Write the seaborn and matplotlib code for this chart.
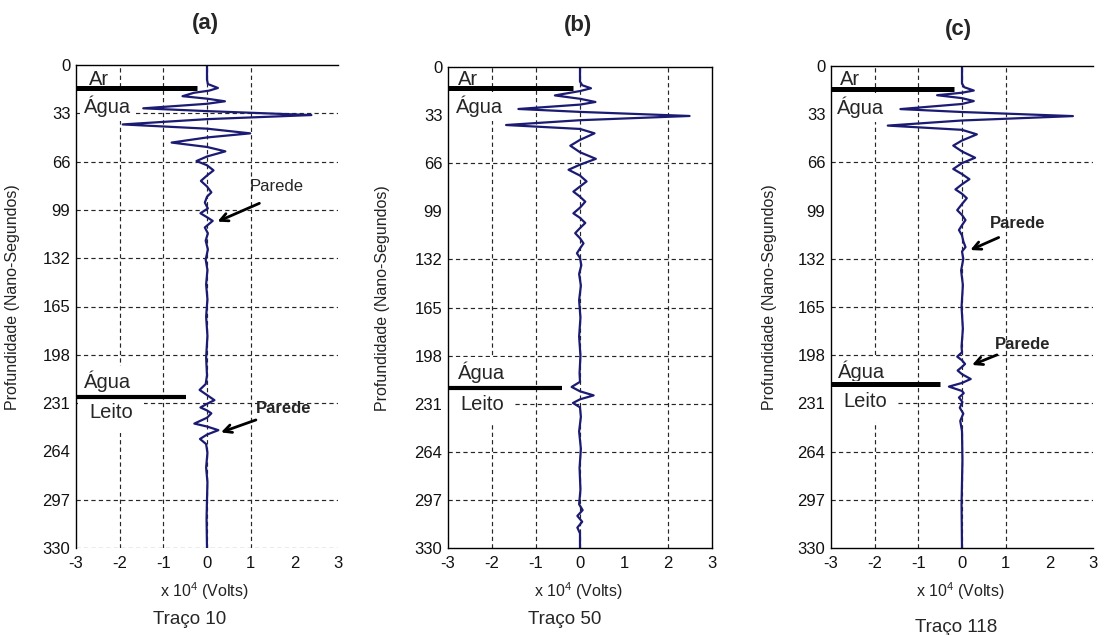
import matplotlib
matplotlib.use("Agg")
import matplotlib.pyplot as plt
import seaborn as sns
import pandas as pd

# ---------------------------------------------------------------------------
# GPR traces: depth (ns) and amplitude (x 10^4 V)
# ---------------------------------------------------------------------------
depth_a = [0, 10, 13, 15.7, 17.5, 19, 21.3, 23, 24.8, 26.5, 29.6, 31.5, 34.2, 37,
           40.6, 43.5, 46.7, 49.5, 53, 56, 59, 62.5, 65.6, 68.5, 72, 75.5, 79.2,
           83, 87, 90, 94, 98, 101.3, 104, 106.5, 111, 115, 120, 126, 133, 140,
           150, 160, 172, 185, 200, 212, 218, 222, 225.5, 229, 231.5, 234, 236,
           238, 241, 245, 247, 249.5, 252.5, 255.5, 259, 265, 275, 285, 297, 310,
           330]
amp_a = [0.0, 0.0, 0.02, 0.25, 0.05, -0.3, -0.56, 0.0, 0.41, 0.0, -1.46, 0.0, 2.39,
         0.0, -1.93, 0.0, 0.99, 0.0, -0.81, 0.0, 0.42, 0.0, -0.24, 0.0, 0.15, 0.0,
         -0.14, 0.0, 0.1, 0.0, -0.05, 0.02, -0.15, 0.0, 0.13, -0.05, 0.02, -0.03,
         0.02, -0.03, 0.01, -0.02, 0.01, -0.02, 0.01, -0.02, 0.0, -0.03, -0.17,
         0.0, 0.17, 0.0, -0.15, 0.0, 0.1, 0.0, -0.29, 0.0, 0.26, 0.0, -0.16,
         -0.02, 0.01, -0.02, 0.01, 0.0, -0.01, 0.0]

depth_b = [0, 10, 12.5, 14.6, 16.5, 19.5, 21.8, 24, 25.8, 28.8, 30.8, 33.6, 36.5,
           39.8, 42.5, 45.5, 50, 54, 58.5, 63, 67, 70.5, 74.5, 78.5, 82, 85.5, 89,
           92.4, 96.5, 100.4, 103.5, 107, 110.5, 114, 117.5, 121, 124.5, 127.8,
           131, 136, 142, 150, 160, 172, 185, 198, 210, 216, 219.5, 222.5, 225.3,
           228, 230.5, 233.5, 240, 250, 262, 275, 290, 300, 304, 308, 312, 316,
           320, 330]
amp_b = [0.0, 0.0, 0.05, 0.25, 0.0, -0.57, 0.0, 0.35, 0.0, -1.4, 0.0, 2.49, 0.0,
         -1.68, 0.0, 0.33, 0.0, -0.22, 0.0, 0.36, 0.0, -0.26, 0.0, 0.15, 0.0,
         -0.15, 0.0, 0.12, 0.0, -0.15, 0.0, 0.12, 0.0, -0.11, 0.0, 0.08, 0.0,
         -0.07, 0.0, 0.03, -0.02, 0.02, -0.02, 0.01, -0.02, 0.01, -0.01, 0.0,
         -0.19, 0.0, 0.31, 0.0, -0.16, 0.0, 0.02, -0.02, 0.02, -0.01, 0.01,
         -0.02, 0.06, -0.06, 0.05, -0.06, 0.0, 0.0]

depth_c = [0, 12, 14.5, 16.8, 18.3, 20, 22, 24, 26, 29.5, 31.5, 34.3, 37.3, 40.8,
           43.7, 46.8, 51, 54.5, 58.5, 62.8, 66.5, 70.5, 74, 77.5, 81, 84.5, 87.5,
           90.5, 94.5, 98.7, 102, 105.5, 109, 112.3, 116, 120, 124, 127, 132, 140,
           150, 165, 180, 192, 196, 199, 201.5, 204, 206, 208.5, 211, 214.3, 217,
           219.5, 222.5, 224, 227, 230, 234, 238, 243, 250, 270, 300, 330]
amp_c = [0.0, 0.0, 0.05, 0.27, 0.0, -0.57, 0.0, 0.27, 0.0, -1.41, 0.0, 2.54, 0.0,
         -1.7, 0.0, 0.34, 0.0, -0.2, 0.0, 0.3, 0.0, -0.2, 0.0, 0.17, 0.0, -0.15,
         0.0, 0.11, 0.0, -0.11, 0.0, 0.08, 0.0, -0.07, 0.0, 0.03, 0.08, 0.0, 0.03,
         -0.02, 0.02, -0.01, 0.02, -0.01, 0.0, -0.11, 0.0, 0.07, 0.0, -0.1, 0.0,
         0.2, 0.0, -0.3, 0.0, 0.04, -0.07, 0.01, -0.05, 0.03, -0.04, 0.0, 0.01,
         -0.01, 0.0]

panel_tags = ["(a)", "(b)", "(c)"]
trace_names = ["Traço 10", "Traço 50", "Traço 118"]
x_ticks = [-3, -2, -1, 0, 1, 2, 3]
y_ticks = [0, 33, 66, 99, 132, 165, 198, 231, 264, 297, 330]

# interface depths (ns) marked on each trace: air/water and water/bed
air_water = [16.0, 14.6, 15.5]
water_bed = [226.6, 220.0, 217.9]

# ---------------------------------------------------------------------------
# Style
# ---------------------------------------------------------------------------
sns.set_style("white")
plt.rcParams["font.family"] = ["Liberation Sans", "DejaVu Sans"]
plt.rcParams["axes.unicode_minus"] = False
plt.rcParams["mathtext.fontset"] = "custom"
plt.rcParams["mathtext.rm"] = "Liberation Sans"

TRACE_COLOR = "#1b1b74"
GRID_KW = dict(color="#262626", lw=0.85, linestyle=(0, (3.6, 2.7)), zorder=1)

W, H = 1104, 635
fig = plt.figure(figsize=(W / 100, H / 100), dpi=100)


def fx(px):
    return px / W


def fy(py):
    return 1 - py / H


panels = [
    dict(box=(76, 65, 338, 548), depth=depth_a, amp=amp_a,
         gx=[-2, -1, 0, 1], gy=[33, 66, 99, 132, 165, 198, 231, 297, 330],
         spines=dict(left=True, top=True, bottom=False, right=False),
         aw_end=-0.23, wb_end=-0.48,
         ar=(-2.7, 13.7), agua1=(-2.81, 32.8), agua2=(-2.81, 220.6), leito=(-2.7, 241.0),
         parede=[dict(text=(1.6, 83.0), tail=(1.2, 94.5), head=(0.24, 107.0), bold=False),
                 dict(text=(1.75, 235.0), tail=(1.12, 242.5), head=(0.32, 251.0), bold=True)],
         ylab_x=-0.214, title=(205, 23), xlab=(204, 591), name=(190, 620)),
    dict(box=(448, 67, 712, 548), depth=depth_b, amp=amp_b,
         gx=[-2, -1, 0, 2], gy=[66, 132, 165, 198, 231, 264, 297],
         spines=dict(left=True, top=True, bottom=True, right=True),
         aw_end=-0.15, wb_end=-0.42,
         ar=(-2.77, 12.3), agua1=(-2.83, 31.8), agua2=(-2.77, 214.0), leito=(-2.72, 235.3),
         parede=[],
         ylab_x=-0.22, title=(578, 25), xlab=(578, 591), name=(565, 620)),
    dict(box=(831, 66, 1093, 548), depth=depth_c, amp=amp_c,
         gx=[-2, -1, 0, 1], gy=[66, 132, 165, 198, 231, 264, 297],
         spines=dict(left=True, top=True, bottom=True, right=False),
         aw_end=-0.19, wb_end=-0.5,
         ar=(-2.79, 13.2), agua1=(-2.86, 33.0), agua2=(-2.84, 213.8), leito=(-2.72, 233.2),
         parede=[dict(text=(1.28, 108.0), tail=(0.84, 117.4), head=(0.19, 126.0), bold=True),
                 dict(text=(1.39, 191.0), tail=(0.8, 197.8), head=(0.23, 204.7), bold=True)],
         ylab_x=-0.206, title=(958, 29), xlab=(960, 591), name=(956, 627)),
]

LAYER_FS = 14.5
box_kw = dict(boxstyle="square,pad=0.2", fc="white", ec="none")

for i, p in enumerate(panels):
    l, t, r, b = p["box"]
    ax = fig.add_axes([fx(l), fy(b), (r - l) / W, (b - t) / H])

    df = pd.DataFrame({"amp": p["amp"], "depth": p["depth"]})
    sns.lineplot(data=df, x="amp", y="depth", orient="y", sort=False,
                 estimator=None, color=TRACE_COLOR, lw=1.6, ax=ax, zorder=3)

    ax.set_xlim(-3, 3)
    ax.set_ylim(330, 0)
    ax.set_xticks(x_ticks)
    ax.set_yticks(y_ticks)
    ax.set_xticklabels([str(v) for v in x_ticks])
    ax.set_yticklabels([str(v) for v in y_ticks])
    ax.tick_params(axis="both", length=0, labelsize=12, colors="#111111")
    ax.tick_params(axis="y", pad=4)
    ax.tick_params(axis="x", pad=6)
    ax.set_xlabel("")
    ax.set_ylabel("Profundidade (Nano-Segundos)", fontsize=11.5, color="#222222")
    ax.yaxis.set_label_coords(p["ylab_x"], 0.52)

    for side, vis in p["spines"].items():
        ax.spines[side].set_visible(vis)
        ax.spines[side].set_color("black")
        ax.spines[side].set_linewidth(1.0)
        ax.spines[side].set_zorder(8)

    for gx in p["gx"]:
        ax.axvline(gx, **GRID_KW)
    for gy in p["gy"]:
        ax.axhline(gy, **GRID_KW)

    # layer labels with white backgrounds
    ax.text(*p["ar"], "Ar", fontsize=LAYER_FS, ha="left", va="baseline",
            bbox=box_kw, zorder=4)
    ax.text(*p["agua1"], "Água", fontsize=LAYER_FS, ha="left", va="baseline",
            bbox=box_kw, zorder=4)
    ax.text(*p["agua2"], "Água", fontsize=LAYER_FS, ha="left", va="baseline",
            bbox=box_kw, zorder=4)
    ax.text(*p["leito"], "Leito", fontsize=LAYER_FS, ha="left", va="baseline",
            bbox=dict(boxstyle="square,pad=0.55", fc="white", ec="none"), zorder=4)

    # interface lines
    ax.hlines(air_water[i], -3, p["aw_end"], color="black", lw=3.6, zorder=5)
    ax.hlines(water_bed[i], -3, p["wb_end"], color="black", lw=3.0 if i < 2 else 3.6,
              zorder=5)

    # wall reflections
    for pa in p["parede"]:
        ax.text(*pa["text"], "Parede", fontsize=12, ha="center", va="center",
                fontweight="bold" if pa["bold"] else "normal", zorder=6)
        ax.annotate("", xy=pa["head"], xytext=pa["tail"],
                    arrowprops=dict(arrowstyle="->", lw=2.0, color="black",
                                    mutation_scale=14, shrinkA=0, shrinkB=0),
                    zorder=6)

    fig.text(fx(p["title"][0]), fy(p["title"][1]), panel_tags[i], fontsize=16,
             fontweight="bold", ha="center", va="center")
    fig.text(fx(p["xlab"][0]), fy(p["xlab"][1]),
             r"x 10$^{\mathregular{4}}$ (Volts)", fontsize=11.5, ha="center",
             va="center", color="#222222")
    fig.text(fx(p["name"][0]), fy(p["name"][1]), trace_names[i], fontsize=13.5,
             ha="center", va="center")

fig.savefig("out.png", dpi=100)
